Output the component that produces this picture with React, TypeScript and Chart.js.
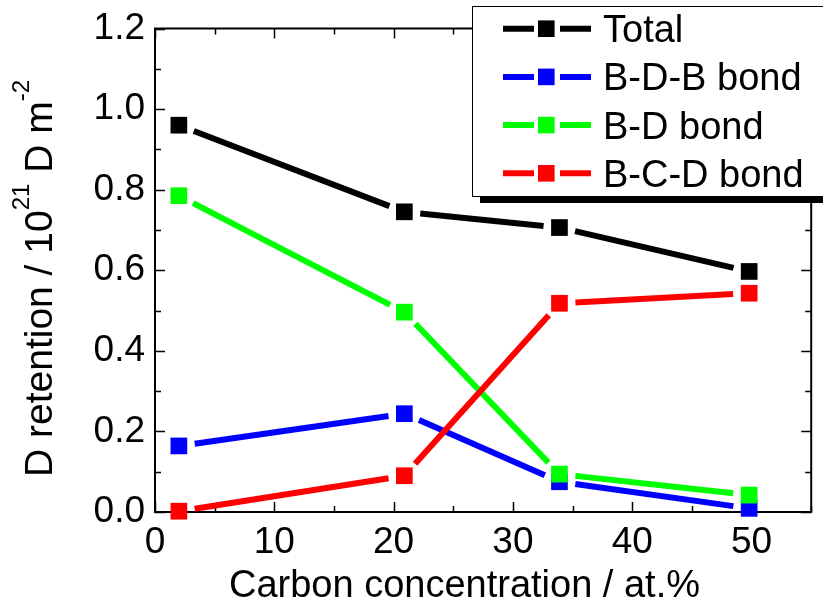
import React, { useEffect, useRef } from "react";
import { Chart, registerables } from "chart.js";

Chart.register(...registerables);

const carbon = [2.0, 20.9, 33.9, 49.8];
const seriesLabels = ["Total", "B-D-B bond", "B-D bond", "B-C-D bond"];
const seriesColors = ["#000000", "#0000ff", "#00ff00", "#ff0000"];
const total = [0.96, 0.745, 0.706, 0.597];
const bdb = [0.164, 0.244, 0.075, 0.009];
const bd = [0.785, 0.496, 0.094, 0.042];
const bcd = [0.002, 0.09, 0.518, 0.543];
const seriesValues = [total, bdb, bd, bcd];

const xMajorTicks = [0, 10, 20, 30, 40, 50];
const xMinorTicks = [5, 15, 25, 35, 45, 55];
const yMajorTicks = [0, 0.2, 0.4, 0.6, 0.8, 1.0, 1.2];
const yMinorTicks = [0.1, 0.3, 0.5, 0.7, 0.9, 1.1];

const xTitle = "Carbon concentration / at.%";
const yTitleParts: [string, boolean][] = [
  ["D retention / 10", false],
  ["21", true],
  [" D m", false],
  ["-2", true],
];

const FONT = '"Liberation Sans", Arial, sans-serif';
const GAP = 16;
const LINE_W = 6;

const framePlugin = {
  id: "frameTicks",
  beforeDatasetsDraw(chart: any) {
    const { ctx, chartArea: a, scales } = chart;
    const xs = scales.x;
    const ys = scales.y;
    ctx.save();
    ctx.strokeStyle = "#000";
    ctx.lineWidth = 2;
    ctx.strokeRect(a.left, a.top, a.right - a.left, a.bottom - a.top);
    ctx.lineWidth = 1.5;
    const drawX = (v: number, len: number) => {
      const px = Math.round(xs.getPixelForValue(v)) + 0.5;
      ctx.beginPath();
      ctx.moveTo(px, a.bottom);
      ctx.lineTo(px, a.bottom - len);
      ctx.moveTo(px, a.top);
      ctx.lineTo(px, a.top + len);
      ctx.stroke();
    };
    const drawY = (v: number, len: number) => {
      const py = Math.round(ys.getPixelForValue(v)) + 0.5;
      ctx.beginPath();
      ctx.moveTo(a.left, py);
      ctx.lineTo(a.left + len, py);
      ctx.moveTo(a.right, py);
      ctx.lineTo(a.right - len, py);
      ctx.stroke();
    };
    xMajorTicks.forEach((v) => drawX(v, 10));
    xMinorTicks.forEach((v) => drawX(v, 6));
    yMajorTicks.forEach((v) => drawY(v, 10));
    yMinorTicks.forEach((v) => drawY(v, 6));
    ctx.restore();
  },
  beforeDatasetDraw(chart: any, args: any) {
    // connecting lines with a gap around each marker (Origin style)
    const { ctx } = chart;
    const meta = args.meta;
    const ds = chart.data.datasets[args.index];
    const pts = meta.data;
    ctx.save();
    ctx.strokeStyle = ds.borderColor;
    ctx.lineWidth = LINE_W;
    ctx.lineCap = "butt";
    for (let i = 0; i < pts.length - 1; i++) {
      const p0 = pts[i];
      const p1 = pts[i + 1];
      const dx = p1.x - p0.x;
      const dy = p1.y - p0.y;
      const L = Math.hypot(dx, dy);
      if (L <= 2 * GAP) continue;
      const ux = dx / L;
      const uy = dy / L;
      ctx.beginPath();
      ctx.moveTo(p0.x + ux * GAP, p0.y + uy * GAP);
      ctx.lineTo(p1.x - ux * GAP, p1.y - uy * GAP);
      ctx.stroke();
    }
    ctx.restore();
  },
  afterDraw(chart: any) {
    const { ctx } = chart;
    ctx.save();
    // x title
    ctx.fillStyle = "#000";
    ctx.font = `38px ${FONT}`;
    ctx.textAlign = "center";
    ctx.textBaseline = "alphabetic";
    ctx.fillText(xTitle, 464.5, 597);

    // y title with superscripts
    const mainFont = `39px ${FONT}`;
    const supFont = `24px ${FONT}`;
    let totalW = 0;
    yTitleParts.forEach(([t, sup]) => {
      ctx.font = sup ? supFont : mainFont;
      totalW += ctx.measureText(t).width;
    });
    ctx.translate(52, 278.5 + totalW / 2);
    ctx.rotate(-Math.PI / 2);
    ctx.textAlign = "left";
    let xpos = 0;
    yTitleParts.forEach(([t, sup]) => {
      ctx.font = sup ? supFont : mainFont;
      ctx.fillText(t, xpos, sup ? -23 : 0);
      xpos += ctx.measureText(t).width;
    });
    ctx.restore();

    // legend
    ctx.save();
    ctx.fillStyle = "#000";
    ctx.fillRect(480, 196, 400, 7);
    ctx.fillStyle = "#fff";
    ctx.fillRect(472.5, 6.5, 400, 190);
    ctx.strokeStyle = "#000";
    ctx.lineWidth = 1;
    ctx.strokeRect(472.5, 6.5, 400, 190);
    chart.data.datasets.forEach((ds: any, i: number) => {
      const cy = 28.7 + i * 48.2;
      ctx.strokeStyle = ds.borderColor;
      ctx.lineWidth = LINE_W;
      ctx.beginPath();
      ctx.moveTo(503, cy);
      ctx.lineTo(534, cy);
      ctx.moveTo(560, cy);
      ctx.lineTo(591, cy);
      ctx.stroke();
      ctx.fillStyle = ds.backgroundColor;
      ctx.fillRect(538, cy - 8.3, 16.6, 16.6);
      ctx.fillStyle = "#000";
      ctx.font = `38px ${FONT}`;
      ctx.textAlign = "left";
      ctx.textBaseline = "alphabetic";
      ctx.fillText(ds.label, 603, cy + 13.5);
    });
    ctx.restore();
  },
};

export default function App() {
  const ref = useRef<HTMLCanvasElement | null>(null);
  useEffect(() => {
    if (!ref.current) return;
    const datasets = seriesLabels.map((label, i) => ({
      label,
      data: carbon.map((x, j) => ({ x, y: seriesValues[i][j] })),
      borderColor: seriesColors[i],
      backgroundColor: seriesColors[i],
      pointBackgroundColor: seriesColors[i],
      pointBorderWidth: 0,
      pointStyle: "rect",
      pointRadius: 11.8,
      showLine: false,
      borderWidth: LINE_W,
      clip: false as any,
      order: 4 - i,
    }));
    const chart = new Chart(ref.current, {
      type: "line",
      data: { datasets },
      options: {
        animation: false,
        responsive: false,
        devicePixelRatio: 1,
        layout: { padding: { top: 27, right: 8, left: 0, bottom: 0 } },
        plugins: { legend: { display: false }, tooltip: { enabled: false } },
        scales: {
          x: {
            type: "linear",
            min: 0,
            max: 55,
            grid: { display: false, drawTicks: false },
            border: { display: false },
            afterFit: (s: any) => {
              s.height = 92;
            },
            afterBuildTicks: (s: any) => {
              s.ticks = xMajorTicks.map((v) => ({ value: v }));
            },
            ticks: {
              padding: 12,
              color: "#000",
              font: { family: FONT, size: 37, lineHeight: 1 },
              callback: (v: any) => String(v),
            },
          },
          y: {
            type: "linear",
            min: 0,
            max: 1.2,
            grid: { display: false, drawTicks: false },
            border: { display: false },
            afterFit: (s: any) => {
              s.width = 155;
            },
            afterBuildTicks: (s: any) => {
              s.ticks = yMajorTicks.map((v) => ({ value: v }));
            },
            ticks: {
              padding: 10,
              color: "#000",
              font: { family: FONT, size: 37, lineHeight: 1 },
              callback: (v: any) => Number(v).toFixed(1),
            },
          },
        },
      },
      plugins: [framePlugin],
    });
    return () => chart.destroy();
  }, []);
  return (
    <div style={{ position: "fixed", left: 0, top: 0, width: 823, height: 604, background: "#fff" }}>
      <canvas ref={ref} width={823} height={604} style={{ width: 823, height: 604, display: "block" }} />
    </div>
  );
}
